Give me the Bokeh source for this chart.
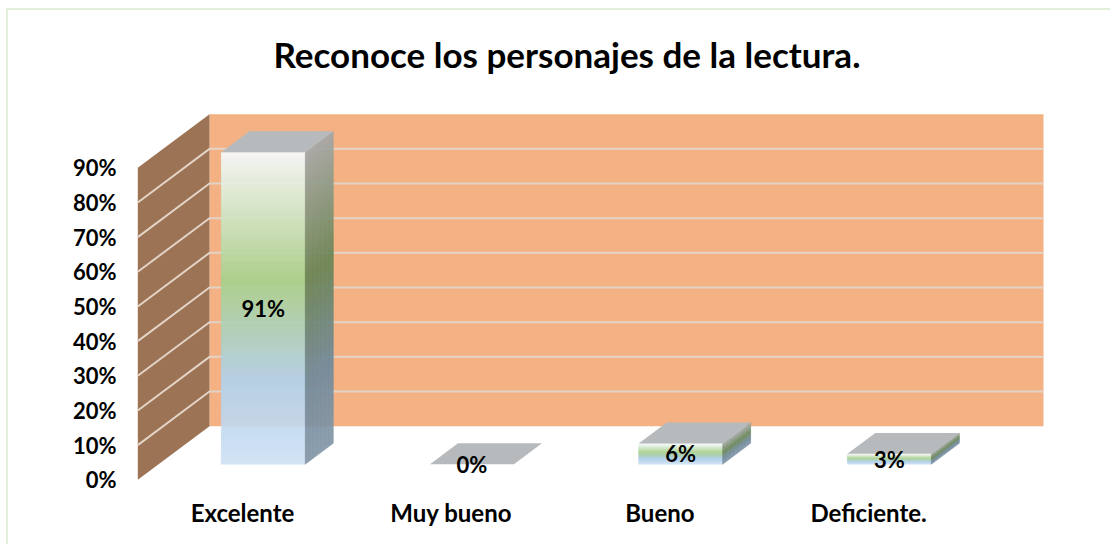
from bokeh.embed import file_html
from bokeh.resources import INLINE
from bokeh.plotting import figure
from bokeh.models import Range1d, FixedTicker, ColumnDataSource
from bokeh.core.properties import value
import numpy as np

# ---- data ----
categories = ["Excelente", "Muy bueno", "Bueno", "Deficiente."]
values = [91, 0, 6, 3]
value_labels = ["91%", "0%", "6%", "3%"]
y_ticks = [0, 10, 20, 30, 40, 50, 60, 70, 80, 90]
axis_max = 90
title_text = "Reconoce los personajes de la lectura."

# ---- colours ----
BACK = "#f4b183"
WALL = "#9c7354"
GRID = "#e2d3c6"
TOPF = "#b7babc"
EDGE = "#e2f0d9"
FRONT_STOPS = [(0.0, "#f6fafd"), (0.41, "#a9d18e"), (0.73, "#b3d1ec"), (1.0, "#d0e2f4")]
SIDE_STOPS = [(0.0, "#a5a8a8"), (0.41, "#698656"), (0.73, "#708a9c"), (1.0, "#8497a8")]

# ---- layout of the oblique projection (category units / percent units) ----
PX_X, PX_Y = 208.7, 3.467
W, H = 1110, 544
FL, FR, FT, FB = 124, 1050, 100, 490      # frame edges on the figure
X0, Y0 = 242.0, 479.3                     # position of category 0 / 0 %
DX, DY = 71.7 / PX_X, 53.6 / PX_Y         # full depth of the box
WALL_X = (137.3 - X0) / PX_X
END_X = (971.3 - X0) / PX_X
HALF = 42.0 / PX_X
D1, D2 = 0.29, 0.68                       # bar depth


def pr(x, y, d):
    return x + d * DX, y + d * DY


def rgb(h):
    return np.array([int(h[i:i + 2], 16) for i in (1, 3, 5)], float)


def grad(stops, t):
    ts = [s[0] for s in stops]
    c = [np.interp(t, ts, [rgb(s[1])[k] for s in stops]) for k in range(3)]
    return "#%02x%02x%02x" % tuple(int(round(v)) for v in c)


p = figure(
    width=W, height=H, output_backend="svg", toolbar_location=None,
    x_range=Range1d((FL - X0) / PX_X, (FR - X0) / PX_X),
    y_range=Range1d((Y0 - FB) / PX_Y, (Y0 - FT) / PX_Y),
    min_border_left=FL, min_border_right=W - FR,
    min_border_top=FT, min_border_bottom=H - FB,
    background_fill_color="white", border_fill_alpha=0,
    outline_line_color=None,
)
# thin outer frame of the picture: top and left edges only
p.styles = {
    "background-color": "white",
    "background-image": f"linear-gradient({EDGE},{EDGE}),linear-gradient({EDGE},{EDGE})",
    "background-size": "1104px 2px,2px 536px",
    "background-position": "6px 8px,6px 8px",
    "background-repeat": "no-repeat",
}
p.title.text = title_text
p.title.align = "left"
p.title.offset = 149
p.title.standoff = 52
p.title.text_font = "Lato"
p.title.text_font_style = "bold"
p.title.text_font_size = "35px"
p.title.text_color = "#000000"
p.grid.visible = False

# axes
p.yaxis.ticker = FixedTicker(ticks=y_ticks)
p.yaxis.major_label_overrides = {t: f"{t}%" for t in y_ticks}
p.xaxis.ticker = FixedTicker(ticks=list(range(len(categories))))
p.xaxis.major_label_overrides = {i: c for i, c in enumerate(categories)}
for ax in (p.xaxis[0], p.yaxis[0]):
    ax.axis_line_color = None
    ax.major_tick_line_color = None
    ax.minor_tick_line_color = None
    ax.major_label_text_font = "Lato"
    ax.major_label_text_font_style = "bold"
    ax.major_label_text_color = "#000000"
p.xaxis[0].major_label_text_font_size = "24px"
p.yaxis[0].major_label_text_font_size = "22px"
p.yaxis[0].major_label_standoff = 2
p.xaxis[0].major_label_standoff = 1

# walls
bx, by = pr(WALL_X, 0, 1)
bx2, by2 = pr(END_X, axis_max, 1)
p.quad(left=[bx], right=[bx2], bottom=[by], top=[by2], fill_color=BACK, line_color=None)
wx = [WALL_X, WALL_X, bx, bx]
wy = [0, axis_max, axis_max + DY, DY]
p.patch(wx, wy, fill_color=WALL, line_color=None)
gt = [t for t in y_ticks if 0 < t < axis_max]
p.multi_line(
    xs=[[WALL_X, bx, bx2] for _ in gt],
    ys=[[t, t + DY, t + DY] for t in gt],
    line_color=GRID, line_width=2,
)

# bars
for i, v in enumerate(values):
    h = min(v, axis_max)
    l, r = i - HALF, i + HALF
    fl, base = pr(l, 0, D1)
    fr, _ = pr(r, 0, D1)
    if h > 0:
        n = max(14, int(h * PX_Y))
        edges = np.linspace(0, h, n + 1)
        ts = 1 - (edges[:-1] + edges[1:]) / (2 * h)
        fcols = [grad(FRONT_STOPS, t) for t in ts]
        scols = [grad(SIDE_STOPS, t) for t in ts]
        p.quad(left=fl, right=fr, bottom=base + edges[:-1], top=base + edges[1:],
               fill_color=fcols, line_color=fcols, line_width=0.4)
        xs, ys = [], []
        for a, b in zip(edges[:-1], edges[1:]):
            x1, y1 = pr(r, a, D1)
            x2, y2 = pr(r, a, D2)
            x3, y3 = pr(r, b, D2)
            x4, y4 = pr(r, b, D1)
            xs.append([x1, x2, x3, x4])
            ys.append([y1, y2, y3, y4])
        p.patches(xs, ys, fill_color=scols, line_color=scols, line_width=0.4)
    a = pr(l, h, D1)
    b = pr(r, h, D1)
    c = pr(r, h, D2)
    d = pr(l, h, D2)
    p.patch([a[0], b[0], c[0], d[0]], [a[1], b[1], c[1], d[1]], fill_color=TOPF, line_color=None)

# data labels
lab = ColumnDataSource(dict(
    x=[pr(i, 0, D1)[0] for i in range(len(values))],
    y=[pr(0, min(v, axis_max) / 2, D1)[1] for v in values],
    t=value_labels,
))
p.text(x="x", y="y", text="t", source=lab, text_font=value("Lato"), text_font_style="bold",
       text_font_size="22px", text_align="center", text_baseline="middle", text_color="#000000")

open("out.html", "w").write(file_html(p, INLINE))
